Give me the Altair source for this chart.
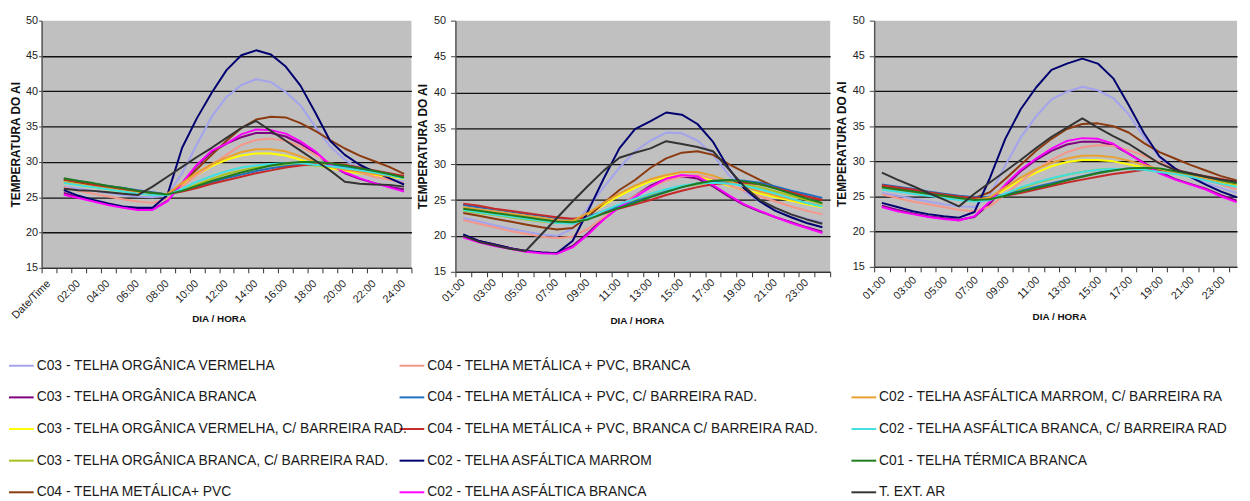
import json
import altair as alt
import pandas as pd

# ---------------- data ----------------
SERIES = [
    "C03 - TELHA ORGÂNICA VERMELHA",
    "C03 - TELHA ORGÂNICA BRANCA",
    "C03 - TELHA ORGÂNICA VERMELHA, C/ BARREIRA RAD.",
    "C03 - TELHA ORGÂNICA BRANCA, C/ BARREIRA RAD.",
    "C04 - TELHA METÁLICA+ PVC",
    "C04 - TELHA METÁLICA +  PVC, BRANCA",
    "C04 - TELHA METÁLICA + PVC, C/ BARREIRA RAD.",
    "C04 - TELHA METÁLICA + PVC, BRANCA C/ BARREIRA RAD.",
    "C02 - TELHA ASFÁLTICA MARROM",
    "C02 - TELHA ASFÁLTICA BRANCA",
    "C02 - TELHA ASFÁLTICA MARROM, C/ BARREIRA RAD.",
    "C02 - TELHA ASFÁLTICA BRANCA, C/ BARREIRA RAD.",
    "C01 - TELHA TÉRMICA BRANCA",
    "T. EXT. AR",
]

HOURS = ["01:00", "02:00", "03:00", "04:00", "05:00", "06:00", "07:00", "08:00",
         "09:00", "10:00", "11:00", "12:00", "13:00", "14:00", "15:00", "16:00",
         "17:00", "18:00", "19:00", "20:00", "21:00", "22:00", "23:00", "24:00"]
P1_CATS = ["Date/Time"] + HOURS

# panel 1
lav1 = [26.5, 26.2, 25.9, 25.6, 25.3, 25.1, 25.0, 25.3, 28.4, 32.5, 36.4, 39.2, 40.9, 41.7, 41.3, 39.9, 38.0, 35.0, 32.2, 30.3, 29.1, 28.4, 27.7, 27.2]
pur1 = [25.6, 25.0, 24.5, 24.0, 23.6, 23.4, 23.3, 24.5, 27.0, 29.5, 31.4, 32.6, 33.5, 34.1, 34.1, 33.6, 32.6, 31.3, 29.5, 28.4, 27.6, 27.0, 26.5, 26.1]
yel1 = [27.0, 26.7, 26.4, 26.1, 25.8, 25.5, 25.3, 25.4, 26.8, 28.2, 29.4, 30.3, 30.9, 31.2, 31.2, 30.9, 30.3, 29.6, 29.1, 28.7, 28.4, 28.1, 27.9, 27.6]
oli1 = [27.2, 26.9, 26.6, 26.3, 26.0, 25.7, 25.5, 25.4, 26.0, 26.8, 27.6, 28.3, 28.8, 29.2, 29.5, 29.6, 29.6, 29.5, 29.3, 29.0, 28.7, 28.4, 28.1, 27.8]
bro1 = [27.5, 27.1, 26.7, 26.3, 26.0, 25.7, 25.4, 25.3, 27.0, 29.0, 31.0, 33.0, 34.8, 36.0, 36.4, 36.3, 35.5, 34.4, 33.1, 31.9, 30.9, 30.1, 29.3, 28.3]
sal1 = [26.4, 25.9, 25.5, 25.1, 24.7, 24.4, 24.2, 24.8, 26.5, 28.2, 29.6, 31.0, 32.4, 33.1, 33.3, 33.0, 32.2, 31.0, 29.9, 29.1, 28.5, 27.9, 27.5, 27.0]
blu1 = [27.6, 27.3, 26.9, 26.6, 26.3, 26.0, 25.7, 25.4, 25.9, 26.5, 27.1, 27.7, 28.2, 28.7, 29.1, 29.4, 29.6, 29.7, 29.6, 29.3, 29.0, 28.6, 28.2, 27.7]
red1 = [27.5, 27.2, 26.8, 26.5, 26.2, 25.9, 25.6, 25.4, 25.8, 26.3, 26.9, 27.4, 27.9, 28.4, 28.8, 29.2, 29.5, 29.7, 29.8, 29.6, 29.2, 28.8, 28.4, 28.0]
nav1 = [26.0, 25.2, 24.6, 24.1, 23.7, 23.5, 23.5, 25.3, 32.0, 36.2, 39.8, 43.0, 45.1, 45.8, 45.2, 43.5, 40.8, 37.0, 33.0, 31.0, 29.6, 28.6, 27.7, 26.8]
mag1 = [25.35, 24.9, 24.4, 23.9, 23.5, 23.2, 23.2, 24.4, 27.0, 29.6, 31.6, 32.6, 33.9, 34.6, 34.5, 34.0, 32.9, 31.5, 29.6, 28.5, 27.7, 27.0, 26.4, 25.8]
ora1 = [27.1, 26.8, 26.5, 26.2, 25.9, 25.6, 25.3, 25.5, 27.0, 28.5, 29.7, 30.6, 31.4, 31.8, 31.8, 31.5, 30.8, 30.0, 29.3, 28.9, 28.6, 28.3, 28.0, 27.8]
cya1 = [27.0, 26.7, 26.4, 26.1, 25.8, 25.5, 25.3, 25.3, 26.2, 27.2, 28.0, 28.7, 29.2, 29.5, 29.7, 29.8, 29.8, 29.6, 29.4, 29.1, 28.8, 28.5, 28.1, 27.7]
gre1 = [27.7, 27.3, 27.0, 26.6, 26.3, 25.9, 25.6, 25.4, 25.9, 26.6, 27.3, 27.9, 28.5, 29.0, 29.5, 29.8, 30.0, 30.0, 29.8, 29.5, 29.1, 28.7, 28.3, 27.8]
ext1 = [26.2, 26.0, 25.9, 25.7, 25.5, 25.3, 26.5, 27.9, 29.3, 30.7, 32.0, 33.4, 34.8, 35.8, 34.4, 33.0, 31.6, 30.2, 28.8, 27.2, 26.9, 26.8, 26.75, 26.5]

# panel 2
lav2 = [22.5, 22.0, 21.5, 21.0, 20.6, 20.2, 20.0, 21.0, 24.0, 26.8, 29.5, 31.8, 33.3, 34.4, 34.3, 33.3, 31.3, 28.5, 26.2, 24.8, 23.8, 23.0, 22.4, 21.9]
pur2 = [20.0, 19.3, 18.8, 18.3, 17.9, 17.7, 17.6, 18.6, 20.4, 22.5, 24.2, 25.6, 27.0, 28.0, 28.3, 28.0, 26.9, 25.5, 24.3, 23.4, 22.6, 21.9, 21.2, 20.6]
yel2 = [23.9, 23.6, 23.3, 23.0, 22.7, 22.4, 22.1, 22.0, 23.0, 24.3, 25.6, 26.7, 27.6, 28.2, 28.5, 28.3, 27.7, 27.0, 26.4, 25.9, 25.4, 24.9, 24.4, 24.0]
oli2 = [23.5, 23.2, 22.9, 22.6, 22.3, 22.0, 21.8, 21.8, 22.5, 23.4, 24.3, 25.1, 25.8, 26.4, 26.9, 27.2, 27.4, 27.4, 27.2, 26.8, 26.2, 25.6, 25.0, 24.5]
bro2 = [23.2, 22.8, 22.4, 22.0, 21.6, 21.2, 20.9, 21.1, 22.7, 24.6, 26.4, 27.8, 29.5, 30.8, 31.6, 31.8, 31.3, 30.0, 28.9, 27.8, 26.8, 26.0, 25.5, 25.0]
sal2 = [22.2, 21.7, 21.2, 20.7, 20.3, 19.9, 19.7, 19.9, 21.0, 22.6, 24.2, 25.6, 26.8, 27.7, 28.3, 28.5, 28.0, 27.1, 26.3, 25.5, 24.8, 24.1, 23.5, 23.0]
blu2 = [24.3, 24.0, 23.7, 23.4, 23.1, 22.8, 22.5, 22.3, 22.7, 23.4, 24.1, 24.8, 25.5, 26.2, 26.8, 27.3, 27.6, 27.8, 27.7, 27.4, 26.9, 26.3, 25.8, 25.3]
red2 = [24.5, 24.2, 23.8, 23.5, 23.2, 22.9, 22.6, 22.4, 22.6, 23.2, 23.8, 24.4, 25.0, 25.7, 26.3, 26.8, 27.2, 27.4, 27.4, 27.2, 26.7, 26.1, 25.5, 25.0]
nav2 = [20.2, 19.3, 18.8, 18.3, 17.9, 17.7, 17.6, 19.3, 23.5, 28.0, 32.2, 34.9, 36.0, 37.2, 36.9, 35.6, 33.1, 29.4, 26.6, 24.8, 23.5, 22.6, 21.8, 21.2]
mag2 = [19.8, 19.1, 18.6, 18.2, 17.8, 17.6, 17.5, 18.4, 20.2, 22.3, 24.0, 25.4, 26.8, 28.0, 28.5, 28.3, 27.1, 25.7, 24.4, 23.5, 22.6, 21.8, 21.1, 20.4]
ora2 = [24.0, 23.7, 23.4, 23.1, 22.8, 22.5, 22.2, 22.1, 23.2, 24.6, 25.9, 27.0, 27.9, 28.5, 28.9, 28.9, 28.4, 27.6, 26.9, 26.2, 25.6, 25.1, 24.6, 24.2]
cya2 = [23.6, 23.3, 23.0, 22.7, 22.4, 22.1, 21.8, 21.7, 22.5, 23.5, 24.4, 25.2, 25.9, 26.5, 27.0, 27.3, 27.4, 27.3, 27.0, 26.5, 25.9, 25.2, 24.6, 24.1]
gre2 = [23.8, 23.5, 23.2, 22.9, 22.6, 22.3, 22.0, 21.9, 22.3, 23.1, 23.9, 24.6, 25.4, 26.1, 26.8, 27.3, 27.7, 27.8, 27.6, 27.2, 26.6, 25.9, 25.2, 24.6]
ext2 = [20.0, 19.2, 18.7, 18.2, 17.9, 20.2, 22.5, 24.8, 27.0, 29.1, 30.9, 31.6, 32.2, 33.2, 32.8, 32.4, 31.8, 29.3, 26.9, 25.0, 23.9, 23.0, 22.3, 21.7]

# panel 3
lav3 = [25.5, 25.1, 24.7, 24.3, 23.9, 23.6, 23.5, 25.2, 29.4, 33.4, 36.4, 38.8, 39.9, 40.6, 40.1, 39.0, 36.7, 33.4, 30.6, 28.8, 27.8, 26.9, 26.2, 25.5]
pur3 = [23.7, 23.1, 22.6, 22.2, 21.9, 21.7, 22.1, 24.0, 26.5, 28.6, 30.2, 31.5, 32.4, 32.8, 32.8, 32.3, 31.1, 29.8, 28.5, 27.5, 26.8, 26.1, 25.2, 24.4]
yel3 = [26.1, 25.8, 25.5, 25.2, 24.9, 24.6, 24.4, 24.7, 26.0, 27.3, 28.4, 29.3, 29.9, 30.2, 30.2, 30.0, 29.6, 29.1, 28.6, 28.2, 27.8, 27.4, 27.0, 26.6]
oli3 = [26.2, 25.9, 25.6, 25.3, 25.0, 24.7, 24.5, 24.6, 25.3, 26.1, 26.9, 27.5, 28.1, 28.5, 28.8, 28.9, 28.9, 28.8, 28.6, 28.3, 27.9, 27.5, 27.1, 26.7]
bro3 = [26.5, 26.2, 25.9, 25.5, 25.2, 24.9, 24.8, 25.6, 27.5, 29.5, 31.5, 33.2, 34.6, 35.3, 35.4, 35.0, 34.1, 32.6, 31.3, 30.4, 29.5, 28.7, 27.9, 27.3]
sal3 = [25.3, 24.8, 24.3, 23.9, 23.5, 23.1, 22.9, 23.6, 25.3, 27.1, 28.8, 30.2, 31.3, 32.0, 32.3, 32.2, 31.6, 30.8, 29.9, 29.0, 28.2, 27.4, 26.7, 26.0]
blu3 = [26.7, 26.4, 26.1, 25.7, 25.4, 25.1, 24.9, 24.9, 25.3, 25.8, 26.4, 26.9, 27.4, 27.9, 28.4, 28.8, 29.0, 29.0, 28.9, 28.6, 28.2, 27.8, 27.4, 26.9]
red3 = [26.6, 26.3, 26.0, 25.6, 25.3, 25.0, 24.8, 24.8, 25.1, 25.5, 26.0, 26.5, 27.0, 27.4, 27.8, 28.2, 28.5, 28.8, 28.8, 28.6, 28.3, 27.9, 27.5, 27.1]
nav3 = [24.1, 23.5, 22.9, 22.5, 22.2, 22.0, 22.8, 27.6, 33.2, 37.4, 40.5, 43.0, 43.9, 44.6, 43.9, 41.8, 38.0, 34.0, 30.7, 29.0, 27.8, 26.7, 25.7, 24.9]
mag3 = [23.5, 22.9, 22.5, 22.1, 21.8, 21.6, 22.2, 24.3, 26.7, 28.8, 30.4, 31.8, 32.9, 33.3, 33.2, 32.5, 31.1, 29.7, 28.3, 27.4, 26.7, 26.0, 25.0, 24.2]
ora3 = [26.2, 25.9, 25.6, 25.3, 25.0, 24.7, 24.5, 24.9, 26.3, 27.7, 28.9, 29.8, 30.4, 30.8, 30.8, 30.6, 30.1, 29.5, 28.9, 28.4, 28.0, 27.6, 27.2, 26.8]
cya3 = [26.0, 25.7, 25.4, 25.1, 24.8, 24.5, 24.3, 24.5, 25.4, 26.3, 27.0, 27.6, 28.1, 28.5, 28.8, 28.9, 28.9, 28.8, 28.5, 28.2, 27.8, 27.3, 26.8, 26.4]
gre3 = [26.3, 26.0, 25.7, 25.4, 25.1, 24.8, 24.5, 24.6, 25.1, 25.7, 26.2, 26.7, 27.3, 27.8, 28.3, 28.7, 29.0, 29.1, 29.0, 28.6, 28.2, 27.8, 27.3, 26.9]
ext3 = [28.4, 27.4, 26.5, 25.5, 24.6, 23.6, 25.4, 27.0, 28.6, 30.2, 31.9, 33.5, 34.8, 36.1, 34.8, 33.6, 32.5, 31.1, 29.7, 28.8, 28.3, 27.8, 27.4, 27.1]

PANEL1 = [lav1, pur1, yel1, oli1, bro1, sal1, blu1, red1, nav1, mag1, ora1, cya1, gre1, ext1]
PANEL2 = [lav2, pur2, yel2, oli2, bro2, sal2, blu2, red2, nav2, mag2, ora2, cya2, gre2, ext2]
PANEL3 = [lav3, pur3, yel3, oli3, bro3, sal3, blu3, red3, nav3, mag3, ora3, cya3, gre3, ext3]

# ---------------- styles ----------------
COLORS = ["#a3a3ee", "#800080", "#ffff00", "#a4c21c", "#8b3a0f", "#f4978a", "#1f6fc0",
          "#c42a2a", "#000070", "#ff00ff", "#e8a030", "#40e0e0", "#1e7b1e", "#333333"]
WIDTHS = [2, 2, 3.5, 2, 2, 2, 2, 2, 2, 3.5, 2.5, 3.5, 2, 1.8]
FONT = "Liberation Sans"
BG = "#c0c0c0"

color_enc = alt.Color("series:N", scale=alt.Scale(domain=SERIES, range=COLORS), legend=None)
width_enc = alt.StrokeWidth("series:N", scale=alt.Scale(domain=SERIES, range=WIDTHS), legend=None)


def long_df(panel):
    rows = []
    for name, vals in zip(SERIES, panel):
        for k, v in enumerate(vals, start=1):
            rows.append({"series": name, "k": k, "temp": v})
    return pd.DataFrame(rows)


def label_expr(labels, shift):
    return json.dumps(labels, ensure_ascii=False) + f"[round(datum.value + {shift})]"


GRID_OPACITY = {"condition": {"test": "datum.value == 15 || datum.value == 50", "value": 0}, "value": 1}


def panel(df, width, height, domain, tick_vals, lbl_expr, lbl_offset, lbl_pad,
          xtitle_x, xtitle_y, ytick, ypad, ytitle_x):
    x_axis = alt.Axis(values=tick_vals, labelExpr=lbl_expr, labelAngle=-45, labelAlign="right",
                      labelBaseline="middle", labelOffset=lbl_offset, labelPadding=lbl_pad,
                      labelOverlap=False, labelFlush=False, labelFontSize=11, labelColor="#222",
                      tickSize=5, tickColor="#333", domainColor="#333", domainWidth=1.5,
                      grid=False, title="DIA / HORA", titleFontSize=10, titleFontWeight="bold",
                      titleColor="#111", titleX=xtitle_x, titleY=xtitle_y, titleBaseline="middle",
                      titleAlign="center")
    y_axis = alt.Axis(values=[15, 20, 25, 30, 35, 40, 45, 50], grid=True, gridColor="#111",
                      gridWidth=1.3, gridOpacity=GRID_OPACITY, tickSize=ytick, tickColor="#444",
                      labelPadding=ypad, labelFontSize=11, labelColor="#222", domainColor="#555",
                      domainWidth=1.5, title="TEMPERATURA DO AI", titleFontSize=12,
                      titleFontWeight="bold", titleColor="#111", titleAngle=270,
                      titleBaseline="middle", titleAlign="center", titleX=ytitle_x,
                      titleY=height / 2)
    return alt.Chart(df).mark_line(clip=True, strokeJoin="round").encode(
        x=alt.X("k:Q", scale=alt.Scale(domain=domain, nice=False, zero=False), axis=x_axis),
        y=alt.Y("temp:Q", scale=alt.Scale(domain=[15, 50], nice=False, zero=False), axis=y_axis),
        color=color_enc,
        strokeWidth=width_enc,
        order=alt.Order("k:Q"),
    ).properties(width=width, height=height)


# x-axis tick positions (category boundaries) and labels
P1_TICKS = [i - 0.5 for i in range(len(P1_CATS) + 1)]
P1_LABELS = [c if i % 2 == 0 else "" for i, c in enumerate(P1_CATS)] + [""]
P23_LABELS = [c if i % 2 == 0 else "" for i, c in enumerate(HOURS)] + [""]
P2_TICKS = [i + 0.5 for i in range(len(HOURS) + 1)]
P3_TICKS = [i + 0.5 for i in range(len(HOURS))]

p1_lines = panel(long_df(PANEL1), 374, 250, [-0.5, 24.5], P1_TICKS,
                 label_expr(P1_LABELS, 0.5), 7, 9, 179, 51, 3, 1, -26)
p2 = panel(long_df(PANEL2), 379, 254, [0.5, 24.5], P2_TICKS,
           label_expr(P23_LABELS, -0.5), 7.5, 4, 183.5, 49, 5, 5, -33)
p3 = panel(long_df(PANEL3), 367, 249, [0.5, 24.03], P3_TICKS,
           label_expr(P23_LABELS, -0.5), 9.5, 6.5, 187, 50, 5, 5, -33)

# ---------------- legend (drawn in panel 1's frame) ----------------
leg_rows = []
for i, name in enumerate(SERIES):
    col = 0 if i < 5 else (1 if i < 10 else 2)
    row = i % 5 if i < 10 else i - 10 + 1
    leg_rows.append({"series": name, "col": col, "row": row})
leg_df = pd.DataFrame(leg_rows)

lx = alt.X("col:Q", scale=alt.Scale(domain=[0, 1, 2], range=[-33, 362, 819]), axis=None)
ly = alt.Y("row:Q", scale=alt.Scale(domain=[0, 4], range=[349, 477]), axis=None)

leg_rules = alt.Chart(leg_df).mark_rule(strokeWidth=2, x2Offset=25).encode(
    x=lx, x2=alt.X2("col:Q"), y=ly, color=color_enc)
leg_text_a = alt.Chart(leg_df).transform_filter("datum.col < 2").mark_text(
    align="left", baseline="middle", dx=28, fontSize=14, font=FONT, color="#1a1a1a").encode(
    x=lx, y=ly, text="series:N")
leg_text_b = alt.Chart(leg_df).transform_filter("datum.col == 2").mark_text(
    align="left", baseline="middle", dx=28, fontSize=14, font=FONT, color="#1a1a1a",
    limit=356, ellipsis="\u200b").encode(x=lx, y=ly, text="series:N")

p1 = alt.layer(p1_lines, leg_rules, leg_text_a, leg_text_b).resolve_scale(
    x="independent", y="independent")

chart = alt.hconcat(
    p1.properties(view=alt.ViewBackground(fill=BG, stroke=None)),
    p2.properties(view=alt.ViewBackground(fill=BG, stroke=None)),
    p3.properties(view=alt.ViewBackground(fill=BG, stroke=None)),
    spacing=44.5, bounds="flush",
).properties(
    padding={"left": 0, "top": 4, "right": 0, "bottom": 0},
    background="white",
).configure(font=FONT).configure_view(stroke=None)

chart.save("out.html", embed_options={"renderer": "svg", "actions": False})
